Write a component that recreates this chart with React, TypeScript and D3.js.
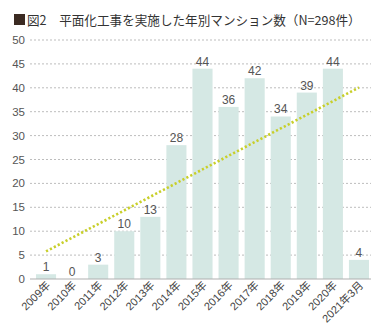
import React from "react";
import * as d3 from "d3";

const categories = ["2009年","2010年","2011年","2012年","2013年","2014年","2015年","2016年","2017年","2018年","2019年","2020年","2021年3月"];
const values = [1,0,3,10,13,28,44,36,42,34,39,44,4];
const yTicks = [0,5,10,15,20,25,30,35,40,45,50];
const title = "図2　平面化工事を実施した年別マンション数（N=298件）";

const W = 378, H = 331;
const FONT = "'Liberation Sans', 'Noto Sans CJK JP', sans-serif";

export default function App() {
  const x = d3.scaleBand<string>().domain(categories).range([33, 372]).paddingInner(0.23).paddingOuter(0.115);
  const y = d3.scaleLinear().domain([0, 50]).range([279, 40]);

  // linear regression trend over all points
  const n = values.length;
  const xs = d3.range(n);
  const mx = d3.mean(xs) as number;
  const my = d3.mean(values) as number;
  const sxy = d3.sum(xs, (i) => (i - mx) * (values[i] - my));
  const sxx = d3.sum(xs, (i) => (i - mx) * (i - mx));
  const slope = sxy / sxx;
  const icpt = my - slope * mx;
  const trend = xs.map((i) => [x(categories[i])! + x.bandwidth() / 2, y(icpt + slope * i)] as [number, number]);
  const line = d3.line();

  return (
    <svg width={W} height={H} style={{ position: "absolute", left: 0, top: 0, fontFamily: FONT }}>
      <rect x={0} y={0} width={W} height={H} fill="#fff" />
      <rect x={14} y={14} width={11} height={11} fill="#3b2a22" />
      <text x={27} y={24.5} fontSize={12.6} fill="#333" fontFamily="'Noto Sans CJK JP', sans-serif">{title}</text>
      {yTicks.map((t) => (
        <g key={t}>
          {t > 0 && (
            <line x1={30} x2={371} y1={y(t)} y2={y(t)} stroke="#bdbdbd" strokeWidth={1} strokeDasharray="2,2" />
          )}
          <text x={25} y={y(t)} dy="0.35em" textAnchor="end" fontSize={11.5} fill="#555">{t}</text>
        </g>
      ))}
      {values.map((v, i) => (
        <rect key={i} x={x(categories[i])} y={y(v)} width={x.bandwidth()} height={y(0) - y(v)} fill="#d5e8e4" />
      ))}
      <line x1={30} x2={371} y1={y(0)} y2={y(0)} stroke="#b0b0b0" strokeWidth={1.2} />
      <path d={line(trend) || ""} fill="none" stroke="#c8cf2a" strokeWidth={2.6} strokeDasharray="2.2,2.2" />
      {values.map((v, i) => (
        <text key={i} x={x(categories[i])! + x.bandwidth() / 2} y={y(v) - 3} textAnchor="middle" fontSize={12} fill="#555">{v}</text>
      ))}
      {categories.map((c, i) => {
        const cx = x(c)! + x.bandwidth() / 2 + 5;
        const cy = 286;
        return (
          <text key={c} x={cx} y={cy} transform={`rotate(-45 ${cx} ${cy})`} textAnchor="end" fontSize={11} fill="#444">{c}</text>
        );
      })}
    </svg>
  );
}
